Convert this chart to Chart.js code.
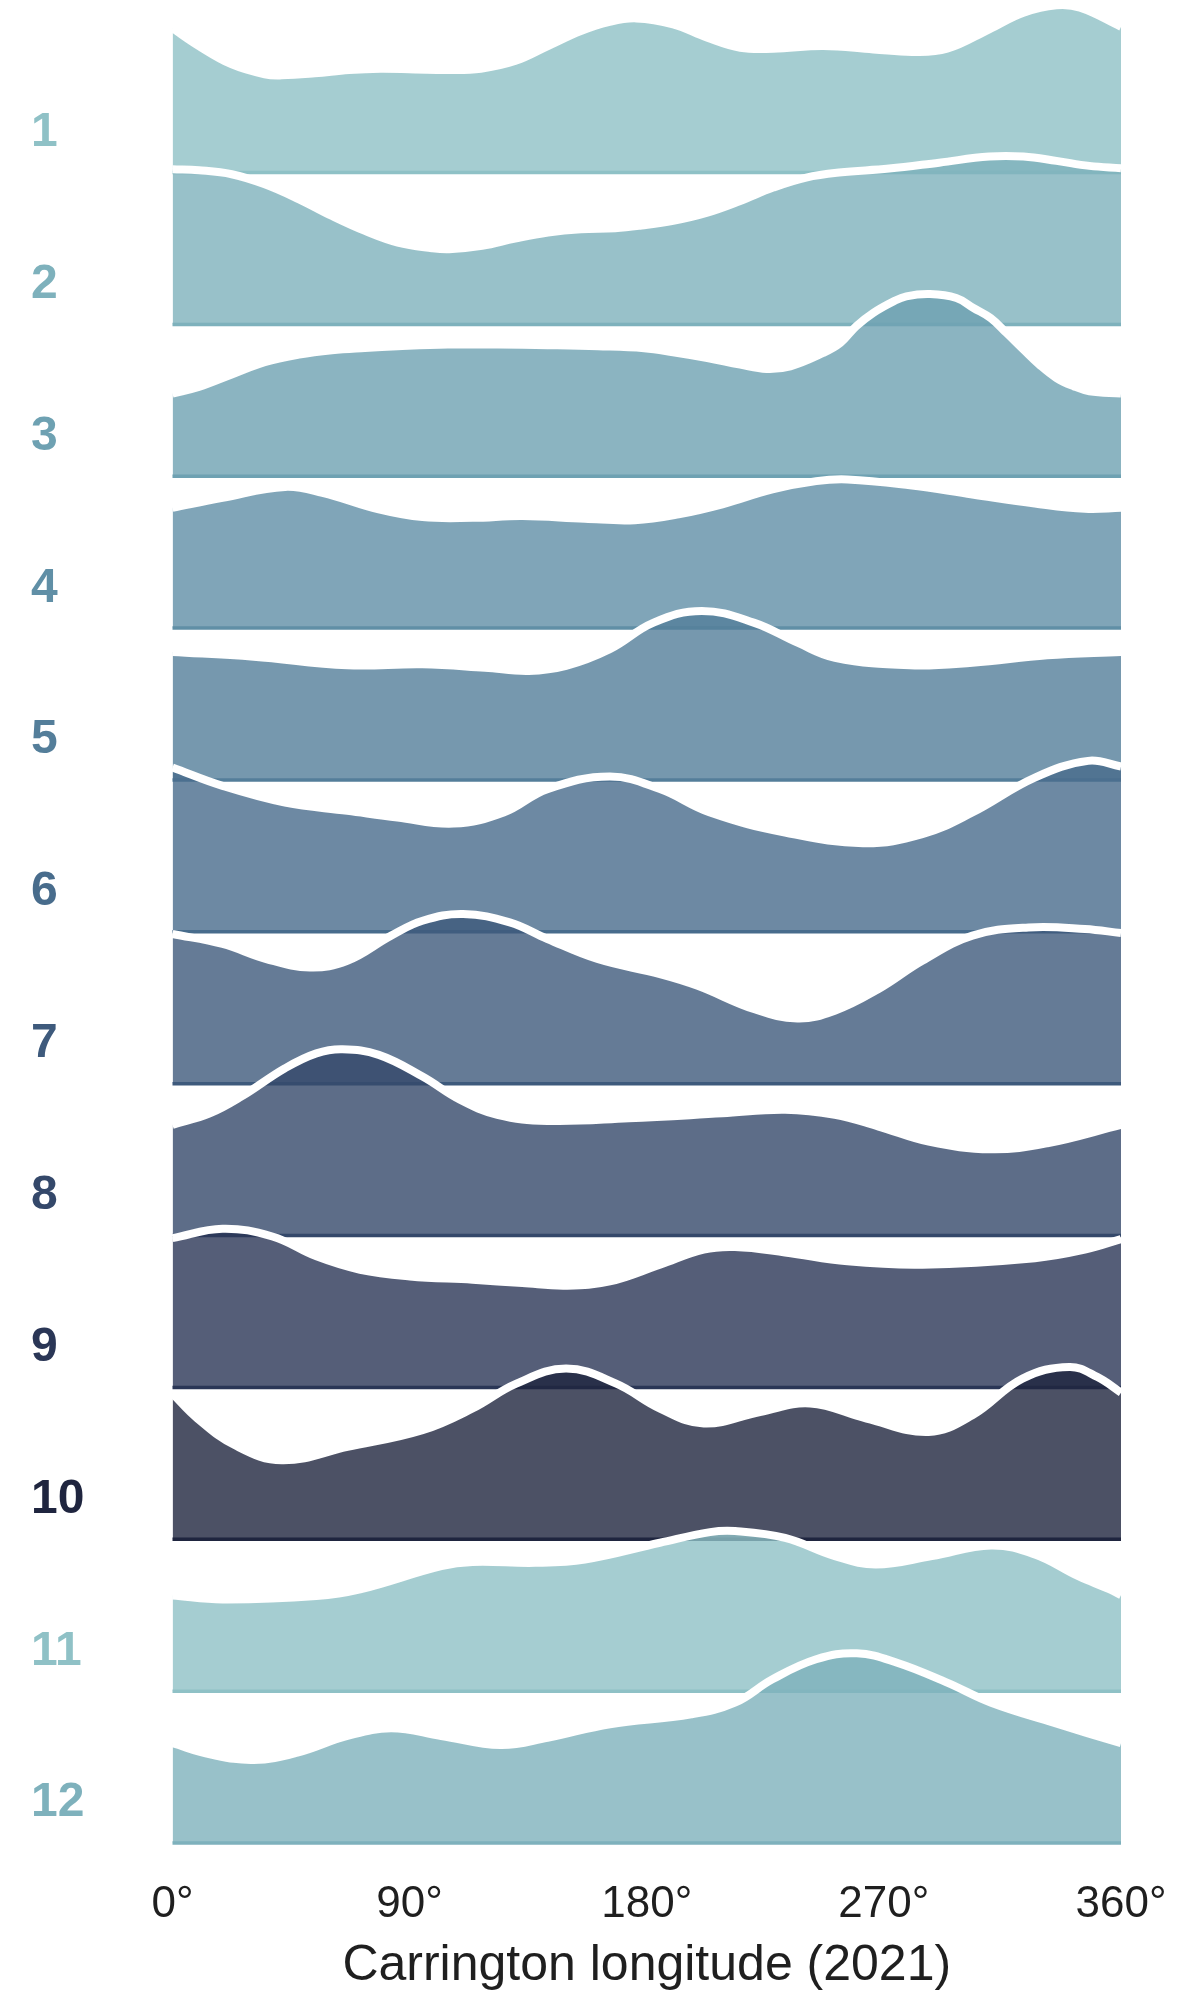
<!DOCTYPE html>
<html><head><meta charset="utf-8">
<script src="https://cdn.jsdelivr.net/npm/chart.js@4.4.1/dist/chart.umd.min.js"></script>
<style>html,body{margin:0;padding:0;background:#fff;}#wrap{width:1200px;height:2004px;}</style>
</head><body><div id="wrap"><canvas id="c" width="1200" height="2004"></canvas></div>
<script>
// ---- data (relative density; 1 unit = spacing between ridges) ----
const rowLabels = ['1','2','3','4','5','6','7','8','9','10','11','12'];
const xTicks = [0, 90, 180, 270, 360];
const xTitle = 'Carrington longitude (2021)';

const lon01 = [0,10,22.5,35,41.5,54,67,79,92,105,117,130,142.5,155,165.5,176,190,203,215.5,228,247,266,281,294,310,323,335.5,344.5,360];
const den01 = [0.950,0.833,0.712,0.647,0.640,0.653,0.675,0.684,0.679,0.675,0.684,0.734,0.833,0.932,0.991,1.015,0.976,0.888,0.822,0.815,0.833,0.811,0.794,0.815,0.943,1.052,1.101,1.085,0.960];
const lon02 = [0,10,22.5,35,48,60.5,73,85.5,98.5,105,117.5,130,142.5,155,168,178,190,203,215.5,228,240.5,253,272,291,310,323,335.5,348,360];
const den02 = [1.022,1.015,0.989,0.923,0.824,0.714,0.616,0.539,0.502,0.495,0.517,0.565,0.605,0.627,0.633,0.651,0.682,0.736,0.813,0.901,0.967,1.000,1.026,1.065,1.105,1.105,1.077,1.044,1.029];
const lon03 = [0,10,22.5,35,48,60.5,73,85.5,104.5,123.5,142.5,161.5,179,190,203,215.5,225.5,234.5,247,253.5,259.5,266,273.5,278.5,287.5,297.5,304,310.5,316.5,323,329,335.5,342,348,360];
const den03 = [0.545,0.588,0.670,0.751,0.801,0.830,0.845,0.856,0.867,0.867,0.863,0.856,0.843,0.817,0.779,0.735,0.707,0.724,0.812,0.878,0.988,1.076,1.150,1.185,1.200,1.174,1.108,1.042,0.944,0.834,0.735,0.647,0.593,0.560,0.545];
const lon04 = [0,19,42.7,56.9,78.3,94.9,113.9,132.8,156.5,175.5,192.1,208.7,227.7,244.3,256.2,279.9,303.6,327.3,346.3,360];
const den04 = [0.792,0.858,0.930,0.891,0.782,0.731,0.726,0.738,0.720,0.711,0.749,0.815,0.913,0.968,0.979,0.940,0.880,0.821,0.786,0.792];
const lon05 = [0,30.8,66.4,94.9,118.6,135.2,149.4,166,182.6,200.9,220.6,237.2,251.4,279.9,303.6,332,360];
const den05 = [0.843,0.812,0.755,0.762,0.739,0.718,0.751,0.861,1.036,1.113,1.036,0.904,0.805,0.755,0.772,0.821,0.843];
const lon06 = [0,19,42.7,66.4,85.4,106.7,125.7,142.3,166,185,204,232.5,262.1,284.6,303.6,327.3,347.5,360];
const den06 = [1.082,0.961,0.851,0.797,0.753,0.713,0.786,0.940,1.023,0.940,0.786,0.654,0.584,0.643,0.786,1.016,1.126,1.089];
const lon07 = [0,19,35.6,52.2,66.4,83,94.9,110.3,128,142.3,161.3,185,199.3,220.6,237.2,251.4,268,284.6,303.6,324.9,346.3,360];
const den07 = [0.986,0.920,0.821,0.766,0.810,0.975,1.073,1.117,1.062,0.953,0.821,0.722,0.645,0.492,0.430,0.481,0.624,0.810,0.975,1.029,1.019,0.992];
const lon08 = [0,14.2,26.1,42.7,54.6,64.5,78.3,94.9,109.1,123.3,142.3,173.2,208.7,232.5,251.4,268,287,310.7,332,360];
const den08 = [0.729,0.805,0.915,1.102,1.200,1.227,1.190,1.047,0.894,0.795,0.755,0.772,0.805,0.828,0.795,0.718,0.619,0.568,0.608,0.729];
const lon09 = [0,19,37.9,54.6,71.2,90.1,113.9,132.8,149.4,166,185,201.6,213.5,232.5,256.2,284.6,327.3,346.3,360];
const den09 = [0.983,1.045,0.994,0.863,0.775,0.731,0.709,0.687,0.670,0.698,0.808,0.907,0.924,0.889,0.830,0.808,0.851,0.907,0.977];
const lon10 = [0,9.5,23.7,41.5,66.4,94.9,113.9,130.5,149.4,168.4,185,201.6,223,242,263.4,287,303.6,322.6,340.4,351,360];
const den10 = [0.959,0.795,0.619,0.520,0.608,0.718,0.861,1.025,1.124,1.025,0.861,0.762,0.838,0.894,0.795,0.707,0.817,1.058,1.135,1.069,0.966];
const lon11 = [0,19,54.6,71.2,102,113.9,137.6,156.5,185,204,213.5,232.5,251.4,266.9,288.2,310.7,327.3,343.8,355.7,360];
const den11 = [0.630,0.604,0.626,0.670,0.823,0.851,0.845,0.867,0.977,1.047,1.054,1.009,0.889,0.834,0.889,0.959,0.900,0.757,0.670,0.632];
const lon12 = [0,14.2,30.8,47.4,66.4,83,102,124.5,142.3,166,196.9,213.5,227.7,244.3,259.7,275,294,310.7,334.4,360];
const den12 = [0.657,0.584,0.547,0.595,0.705,0.755,0.705,0.645,0.693,0.782,0.847,0.924,1.078,1.210,1.249,1.187,1.056,0.924,0.792,0.657];

const rowLons = [lon01,lon02,lon03,lon04,lon05,lon06,lon07,lon08,lon09,lon10,lon11,lon12];
const rowDens = [den01,den02,den03,den04,den05,den06,den07,den08,den09,den10,den11,den12];

// ---- style ----
const palette = ['#8fc1c6','#7eb1bc','#6ea1b2','#608fa6','#547e9a','#486c8c','#3e5a7c','#34486a','#2a3656','#1f253f'];
const FILL_ALPHA = 0.8;
const FONT = '"Liberation Sans", Arial, Helvetica, sans-serif';
const LABEL_LIFT = 0.262;
const Y_MIN = -0.1119, Y_MAX = 12.1362;

function rgba(hex, a) {
  const n = parseInt(hex.slice(1), 16);
  return `rgba(${(n>>16)&255},${(n>>8)&255},${n&255},${a})`;
}

const nRows = rowLabels.length;
const datasets = [];
rowLabels.forEach((lab, i) => {
  const off = nRows - 1 - i;
  const col = palette[i % palette.length];
  datasets.push({
    data: rowLons[i].map((x, j) => ({x: x, y: off + rowDens[i][j]})),
    fill: {value: off},
    backgroundColor: rgba(col, FILL_ALPHA),
    borderColor: '#ffffff',
    borderWidth: 8,
    tension: 0.4,
    pointRadius: 0,
    clip: false,
    order: (nRows - i) * 2 + 1
  });
  datasets.push({
    data: [{x: xTicks[0], y: off}, {x: xTicks[xTicks.length - 1], y: off}],
    fill: false,
    borderColor: col,
    borderWidth: 3.5,
    pointRadius: 0,
    clip: false,
    order: (nRows - i) * 2
  });
});

new Chart(document.getElementById('c').getContext('2d'), {
  type: 'line',
  data: {datasets},
  options: {
    responsive: false,
    animation: false,
    devicePixelRatio: 1,
    layout: {padding: {left: 31, right: 79, top: 0, bottom: 0}},
    plugins: {legend: {display: false}, tooltip: {enabled: false}},
    elements: {point: {radius: 0}, line: {capBezierPoints: false}},
    scales: {
      x: {
        type: 'linear', min: 0, max: 360, position: 'bottom',
        grid: {display: false, drawTicks: false}, border: {display: false},
        afterBuildTicks: s => { s.ticks = xTicks.map(v => ({value: v})); },
        ticks: {autoSkip: false, maxRotation: 0, padding: 18, color: '#1f1f1f',
                font: {family: FONT, size: 44}, callback: v => v + '°'},
        title: {display: true, text: xTitle, color: '#1f1f1f',
                font: {family: FONT, size: 50}, padding: {top: 0, bottom: 8}},
        afterFit: s => { s.height = 144; }
      },
      y: {
        type: 'linear', min: Y_MIN, max: Y_MAX, position: 'left',
        grid: {display: false, drawTicks: false}, border: {display: false},
        afterBuildTicks: s => { s.ticks = rowLabels.map((l, i) => ({value: nRows - 1 - i + LABEL_LIFT})); },
        ticks: {autoSkip: false, crossAlign: 'far', padding: 0,
                font: {family: FONT, size: 48, weight: 'bold'},
                color: c => palette[c.index % palette.length],
                callback: (v, i) => rowLabels[i]},
        afterFit: s => { s.width = 141.5; s.paddingTop = 0; s.paddingBottom = 0; }
      }
    }
  }
});
</script></body></html>
